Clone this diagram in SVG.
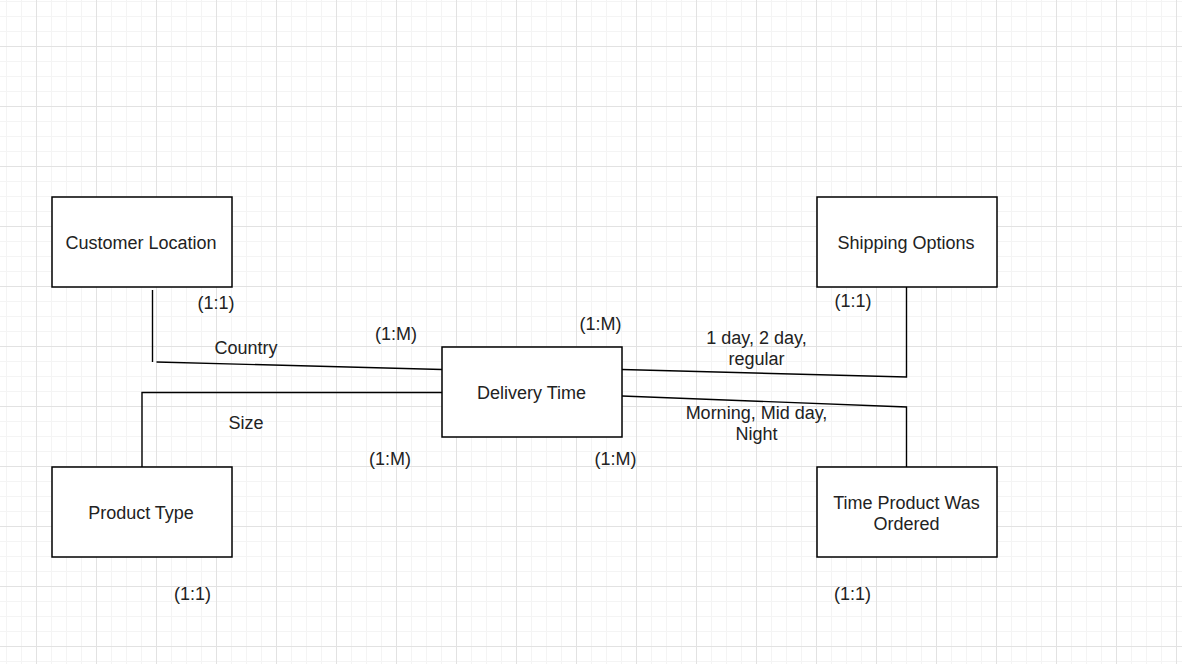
<svg xmlns="http://www.w3.org/2000/svg" width="1182" height="664" viewBox="0 0 1182 664">
  <defs>
    <pattern id="grid" patternUnits="userSpaceOnUse" x="36" y="46" width="60" height="60">
      <rect x="15" y="0" width="1" height="60" fill="#f4f4f4"/>
      <rect x="30" y="0" width="1" height="60" fill="#f4f4f4"/>
      <rect x="45" y="0" width="1" height="60" fill="#f4f4f4"/>
      <rect x="0" y="15" width="60" height="1" fill="#f4f4f4"/>
      <rect x="0" y="30" width="60" height="1" fill="#f4f4f4"/>
      <rect x="0" y="45" width="60" height="1" fill="#f4f4f4"/>
      <rect x="0" y="0" width="1" height="60" fill="#e2e2e2"/>
      <rect x="0" y="0" width="60" height="1" fill="#e2e2e2"/>
    </pattern>
    <style>
      .box { fill: #ffffff; stroke: #000000; stroke-width: 1.5; }
      .edge { fill: none; stroke: #000000; stroke-width: 1.4; }
      text { font-family: "Liberation Sans", Arial, sans-serif; font-size: 18px; fill: #222222; text-anchor: middle; }
    </style>
  </defs>
  <rect x="0" y="0" width="1182" height="664" fill="#ffffff"/>
  <rect x="0" y="0" width="1182" height="664" fill="url(#grid)"/>

  <g id="connectors">
    <line class="edge" x1="152.5" y1="290" x2="152.5" y2="362"/>
    <line class="edge" x1="156.5" y1="362" x2="442" y2="369.5"/>
    <polyline class="edge" points="442,392.5 142,392.5 142,467"/>
    <polyline class="edge" points="622,369.5 906.5,377 906.5,287"/>
    <polyline class="edge" points="622,396 906.5,407 906.5,467"/>
    <text x="216" y="308.5">(1:1)</text>
    <text x="246" y="354">Country</text>
    <text x="396" y="339.5">(1:M)</text>
    <text x="600.5" y="329.5">(1:M)</text>
    <text x="756.5" y="344">1 day, 2 day,</text>
    <text x="756.5" y="364.5">regular</text>
    <text x="853" y="306.5">(1:1)</text>
    <text x="246" y="428.5">Size</text>
    <text x="390" y="464.5">(1:M)</text>
    <text x="615.5" y="464.5">(1:M)</text>
    <text x="756.5" y="419">Morning, Mid day,</text>
    <text x="756.5" y="440">Night</text>
    <text x="192.5" y="599.5">(1:1)</text>
    <text x="852.5" y="599.5">(1:1)</text>
  </g>

  <g id="customer-location">
    <rect class="box" x="52" y="197" width="180" height="90"/>
    <text x="141" y="249">Customer Location</text>
  </g>
  <g id="shipping-options">
    <rect class="box" x="817" y="197" width="180" height="90"/>
    <text x="906" y="249">Shipping Options</text>
  </g>
  <g id="delivery-time">
    <rect class="box" x="442" y="347" width="180" height="90"/>
    <text x="531.5" y="399">Delivery Time</text>
  </g>
  <g id="product-type">
    <rect class="box" x="52" y="467" width="180" height="90"/>
    <text x="141" y="519">Product Type</text>
  </g>
  <g id="time-product-ordered">
    <rect class="box" x="817" y="467" width="180" height="90"/>
    <text x="906.5" y="509">Time Product Was</text>
    <text x="906.5" y="529.5">Ordered</text>
  </g>
</svg>
